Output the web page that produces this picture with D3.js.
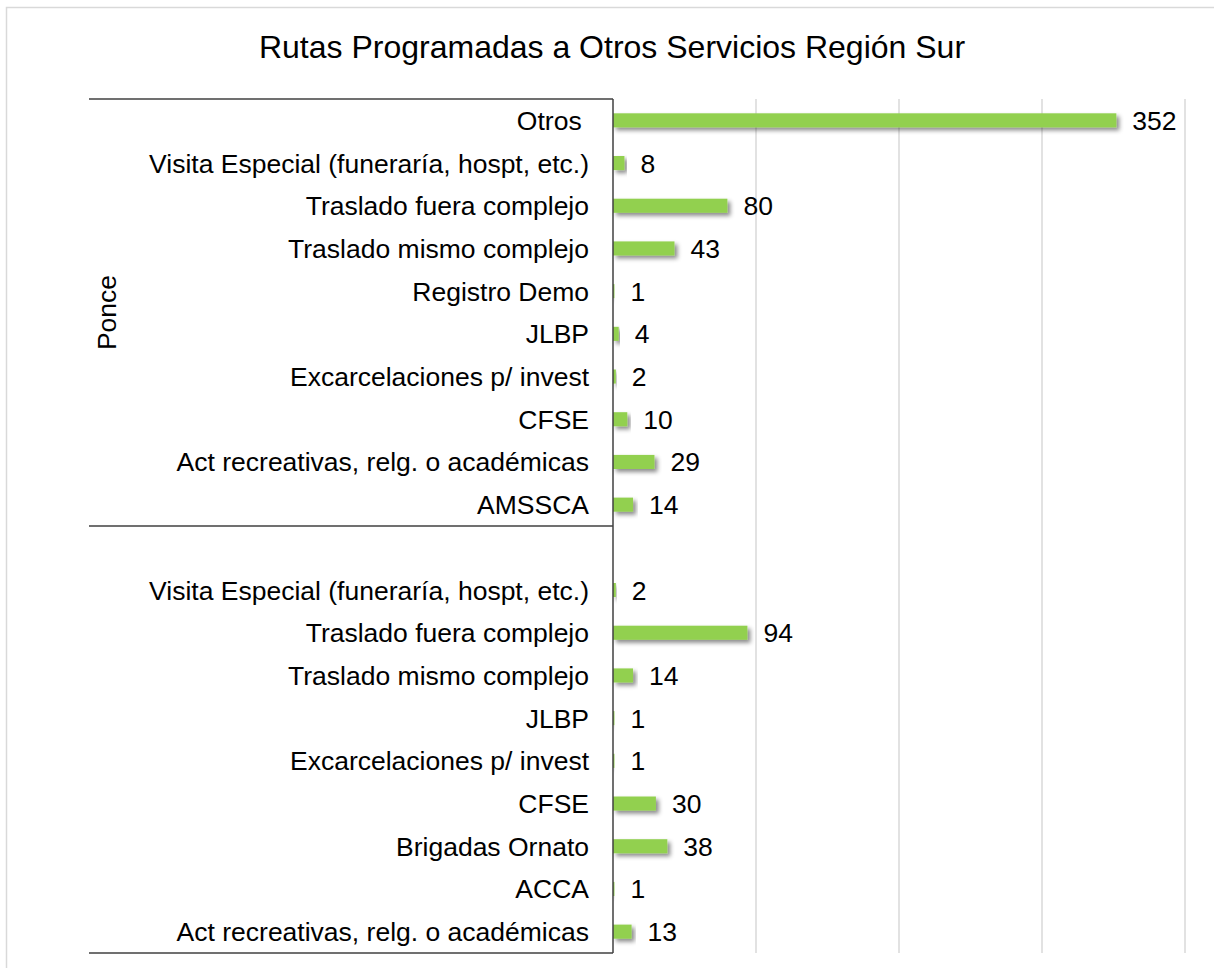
<!DOCTYPE html>
<html>
<head>
<meta charset="utf-8">
<script src="https://cdn.jsdelivr.net/npm/d3@7"></script>
<style>
  body { margin: 0; background: #fff; }
  text { font-family: "Liberation Sans", Arial, sans-serif; fill: #000; }
</style>
</head>
<body>
<svg id="chart"></svg>
<script>
// data
var groups = ['Ponce', ''];
var ponceCats = ['Otros ', 'Visita Especial (funeraría, hospt, etc.)', 'Traslado fuera complejo',
    'Traslado mismo complejo', 'Registro Demo', 'JLBP', 'Excarcelaciones p/ invest', 'CFSE',
    'Act recreativas, relg. o académicas', 'AMSSCA'];
var ponceVals = [352, 8, 80, 43, 1, 4, 2, 10, 29, 14];
var otherCats = ['', 'Visita Especial (funeraría, hospt, etc.)', 'Traslado fuera complejo',
    'Traslado mismo complejo', 'JLBP', 'Excarcelaciones p/ invest', 'CFSE', 'Brigadas Ornato',
    'ACCA', 'Act recreativas, relg. o académicas'];
var otherVals = [null, 2, 94, 14, 1, 1, 30, 38, 1, 13];
var xTicks = [0, 100, 200, 300, 400];

var W = 1214, H = 968;
var margin = { top: 99, right: 29, bottom: 15, left: 613 };
var width = W - margin.left - margin.right;
var height = H - margin.top - margin.bottom;
var fs = '26.5px';

var rows = [];
ponceCats.forEach((c, i) => rows.push({ id: 'a' + i, cat: c, v: ponceVals[i], g: 0 }));
otherCats.forEach((c, i) => rows.push({ id: 'b' + i, cat: c, v: otherVals[i], g: 1 }));

var svg = d3.select('#chart').attr('width', W).attr('height', H);

var defs = svg.append('defs');
defs.append('filter')
    .attr('id', 'shadow')
    .attr('x', '-20%').attr('y', '-50%')
    .attr('width', '140%').attr('height', '250%')
    .append('feDropShadow')
    .attr('dx', 3).attr('dy', 3)
    .attr('stdDeviation', 2)
    .attr('flood-color', '#000')
    .attr('flood-opacity', 0.45);

// outer border
svg.append('rect')
    .attr('x', 6.5).attr('y', 7.5)
    .attr('width', W).attr('height', H)
    .attr('fill', 'none')
    .attr('stroke', '#d9d9d9')
    .attr('stroke-width', 1.5);

svg.append('text')
    .attr('x', 612).attr('y', 58)
    .style('text-anchor', 'middle')
    .style('font-size', '32px')
    .text('Rutas Programadas a Otros Servicios Región Sur');

var g = svg.append('g')
    .attr('transform', `translate(${margin.left}, ${margin.top})`);

var xScale = d3.scaleLinear().domain([0, 400]).range([0, 572]);
var yScale = d3.scaleBand()
    .domain(rows.map(d => d.id))
    .range([0, height])
    .paddingInner(0.67)
    .paddingOuter(0.335);

// gridlines
g.selectAll('.grid')
    .data(xTicks.slice(1))
    .enter().append('line')
    .attr('x1', d => xScale(d)).attr('x2', d => xScale(d))
    .attr('y1', 0).attr('y2', height)
    .attr('stroke', '#d9d9d9')
    .attr('stroke-width', 1.5);

// bars
g.selectAll('.bar')
    .data(rows.filter(d => d.v != null))
    .enter().append('rect')
    .attr('x', 0)
    .attr('y', d => yScale(d.id))
    .attr('width', d => xScale(d.v))
    .attr('height', yScale.bandwidth())
    .attr('fill', '#92d050')
    .attr('filter', 'url(#shadow)');

// value labels
g.selectAll('.val')
    .data(rows.filter(d => d.v != null))
    .enter().append('text')
    .attr('x', d => xScale(d.v) + 16)
    .attr('y', d => yScale(d.id) + yScale.bandwidth() / 2)
    .attr('dy', '0.36em')
    .style('font-size', fs)
    .text(d => d.v);

// category labels
g.selectAll('.cat')
    .data(rows)
    .enter().append('text')
    .attr('x', -24)
    .attr('y', d => yScale(d.id) + yScale.bandwidth() / 2)
    .attr('dy', '0.36em')
    .style('text-anchor', 'end')
    .style('font-size', fs)
    .style('white-space', 'pre')
    .text(d => d.cat);

// group separators
var step = yScale.step();
var nPer = ponceCats.length;
[0, nPer, nPer * 2].forEach(i => {
    var y = Math.round(i * step);
    g.append('line')
        .attr('x1', 89 - margin.left).attr('x2', 0)
        .attr('y1', y).attr('y2', y)
        .attr('stroke', '#404040')
        .attr('stroke-width', 1.5);
});

// group labels
groups.forEach((name, i) => {
    var cy = (i + 0.5) * nPer * step;
    g.append('text')
        .attr('transform', `translate(${106 - margin.left}, ${cy}) rotate(-90)`)
        .attr('dy', '0.36em')
        .style('text-anchor', 'middle')
        .style('font-size', fs)
        .text(name);
});

// axis line
g.append('line')
    .attr('x1', 0).attr('x2', 0)
    .attr('y1', 0).attr('y2', height)
    .attr('stroke', '#404040')
    .attr('stroke-width', 1.5);
</script>
</body>
</html>
